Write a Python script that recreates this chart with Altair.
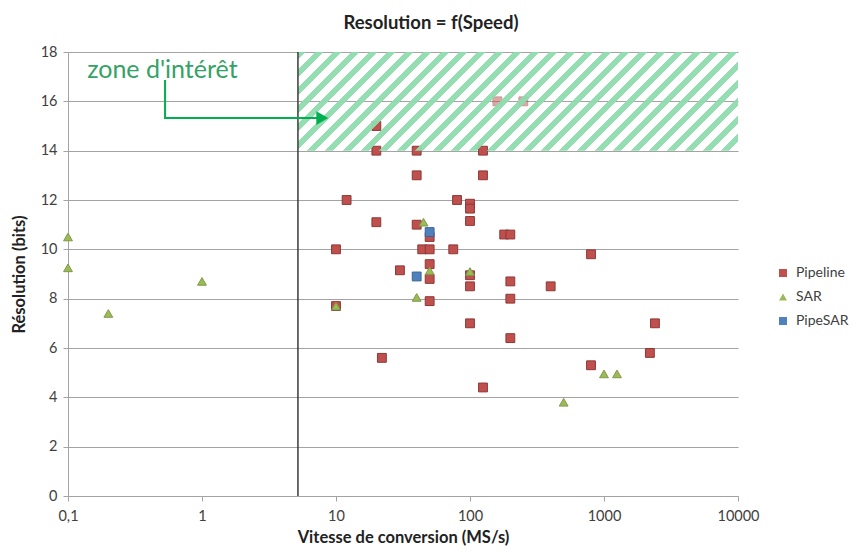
import altair as alt
import pandas as pd

# ---- data ----
pipe_speed = [20, 20, 40, 125, 40, 125, 12, 80, 100, 100, 20, 40, 100, 50, 180, 200,
              10, 44, 50, 75, 800, 50, 30, 50, 100, 100, 200, 400, 50, 200, 10, 100,
              2400, 200, 2200, 22, 800, 125, 160, 250]
pipe_res = [15, 14, 14, 14, 13, 13, 12, 12, 11.85, 11.65, 11.1, 11.0, 11.15, 10.5, 10.6, 10.6,
            10, 10, 10, 10, 9.8, 9.4, 9.15, 8.8, 8.95, 8.5, 8.7, 8.5, 7.9, 8.0, 7.7, 7.0,
            7.0, 6.4, 5.8, 5.6, 5.3, 4.4, 16, 16]
sar_speed = [0.1, 0.1, 0.2, 1, 10, 40, 45, 50, 100, 500, 1000, 1250]
sar_res = [10.5, 9.25, 7.4, 8.7, 7.7, 8.05, 11.1, 9.13, 9.1, 3.8, 4.95, 4.95]
ps_speed = [50, 40]
ps_res = [10.7, 8.9]

series = ["Pipeline", "SAR", "PipeSAR"]
fills = ["#c0504d", "#9bbb59", "#4f81bd"]
strokes = ["#8c3836", "#7f9a47", "#3a6496"]
shapes = ["square", "triangle-up", "square"]

x_ticks = [0.1, 1, 10, 100, 1000, 10000]
y_ticks = [0, 2, 4, 6, 8, 10, 12, 14, 16, 18]

limit_speed = [5.2]
zone_x = [5.2, 10000]
zone_y = [14, 18]
arrow_x = [0.53, 0.53, 7.5]
arrow_y = [16.86, 15.32, 15.32]
arrow_head = [7.9, 15.32]
label_pos = [0.139, 16.94]
label_text = "zone d'intérêt"

df = pd.DataFrame({
    "speed": pipe_speed + sar_speed + ps_speed,
    "res": pipe_res + sar_res + ps_res,
    "type": ["Pipeline"] * len(pipe_speed) + ["SAR"] * len(sar_speed) + ["PipeSAR"] * len(ps_speed),
})
df["ord"] = range(len(df))

FONT = "Lato"
TXT = "#404040"
GRID = "#a3a3a3"

x_scale = alt.Scale(type="log", domain=[0.1, 10000], nice=False)
y_scale = alt.Scale(domain=[0, 18], nice=False)

x_axis = alt.Axis(values=x_ticks, grid=False,
                  labelExpr="datum.value == 0.1 ? '0,1' : format(datum.value, 'd')",
                  title="Vitesse de conversion (MS/s)", tickSize=5, tickColor=GRID,
                  domainColor=GRID, labelPadding=8, titlePadding=7, labelFlush=False)
y_axis = alt.Axis(values=y_ticks, grid=True, gridColor=GRID, title="Résolution (bits)",
                  tickSize=5, tickColor=GRID, domainColor=GRID, labelPadding=6,
                  titlePadding=13)

points = alt.Chart(df).mark_point(filled=True, size=78, strokeWidth=1).encode(
    x=alt.X("speed:Q", scale=x_scale, axis=x_axis),
    y=alt.Y("res:Q", scale=y_scale, axis=y_axis),
    color=alt.Color("type:N", scale=alt.Scale(domain=series, range=fills),
                    legend=alt.Legend(title=None, orient="none", legendX=708, legendY=214,
                                      labelFontSize=14, labelFont=FONT, labelColor=TXT,
                                      symbolSize=64, rowPadding=10, labelOffset=6,
                                      symbolStrokeWidth=0)),
    shape=alt.Shape("type:N", scale=alt.Scale(domain=series, range=shapes)),
    stroke=alt.Stroke("type:N", scale=alt.Scale(domain=series, range=strokes), legend=None),
    opacity=alt.condition("datum.res >= 15.5", alt.value(0.5), alt.value(1)),
    order="ord:Q",
)

# hatched zone (diagonal stripes via a sharp-stop linear gradient)
period = 18.0 / 539.0
green_frac = 0.42
stops = []
k = 0
while k * period < 1.0:
    a = k * period
    b = min(a + period * green_frac, 1.0)
    c = min((k + 1) * period, 1.0)
    stops += [alt.GradientStop(offset=a, color="#8fdcae"),
              alt.GradientStop(offset=b, color="#8fdcae"),
              alt.GradientStop(offset=b, color="rgba(255,255,255,0)"),
              alt.GradientStop(offset=c, color="rgba(255,255,255,0)")]
    k += 1

zone_df = pd.DataFrame({"x1": [zone_x[0]], "x2": [zone_x[1]], "y1": [zone_y[0]], "y2": [zone_y[1]]})
hatch = alt.Chart(zone_df).mark_rect(
    fill=alt.Gradient(gradient="linear", stops=stops, x1=0, y1=0, x2=1.1657, y2=0.2615),
    opacity=0.95,
).encode(x=alt.X("x1:Q", scale=x_scale), x2="x2:Q",
         y=alt.Y("y1:Q", scale=y_scale), y2="y2:Q")

vline = alt.Chart(pd.DataFrame({"x": limit_speed, "y1": [0], "y2": [18]})).mark_rule(
    color="#3a3a3a", strokeWidth=1.5
).encode(x=alt.X("x:Q", scale=x_scale), y=alt.Y("y1:Q", scale=y_scale), y2="y2:Q")

arrow_df = pd.DataFrame({"x": arrow_x, "y": arrow_y, "o": [0, 1, 2]})
arrow = alt.Chart(arrow_df).mark_line(color="#00b050", strokeWidth=2).encode(
    x=alt.X("x:Q", scale=x_scale), y=alt.Y("y:Q", scale=y_scale), order="o:Q")

head = alt.Chart(pd.DataFrame({"x": [arrow_head[0]], "y": [arrow_head[1]]})).mark_point(
    shape="triangle-right", filled=True, color="#00b050", size=190, opacity=1
).encode(x=alt.X("x:Q", scale=x_scale), y=alt.Y("y:Q", scale=y_scale))

label = alt.Chart(pd.DataFrame({"x": [label_pos[0]], "y": [label_pos[1]], "t": [label_text]})).mark_text(
    align="left", baseline="alphabetic", font=FONT, fontSize=25, color="#35a265"
).encode(x=alt.X("x:Q", scale=x_scale), y=alt.Y("y:Q", scale=y_scale), text="t:N")

chart = alt.layer(points, hatch, vline, arrow, head, label).properties(
    width=670, height=444,
    autosize="none",
    padding={"left": 60, "top": 44, "right": 111, "bottom": 50},
    title=alt.Title("Resolution = f(Speed)", font=FONT, fontSize=18.5, fontWeight="bold",
                    color="#222222", anchor="middle", dx=28, offset=12),
).configure_view(stroke=None).configure_axis(
    labelFont=FONT, labelFontSize=14.5, labelColor=TXT,
    titleFont=FONT, titleFontSize=16.5, titleFontWeight="bold", titleColor="#222222",
)

chart.save("out.html", embed_options={"renderer": "svg", "actions": False})
